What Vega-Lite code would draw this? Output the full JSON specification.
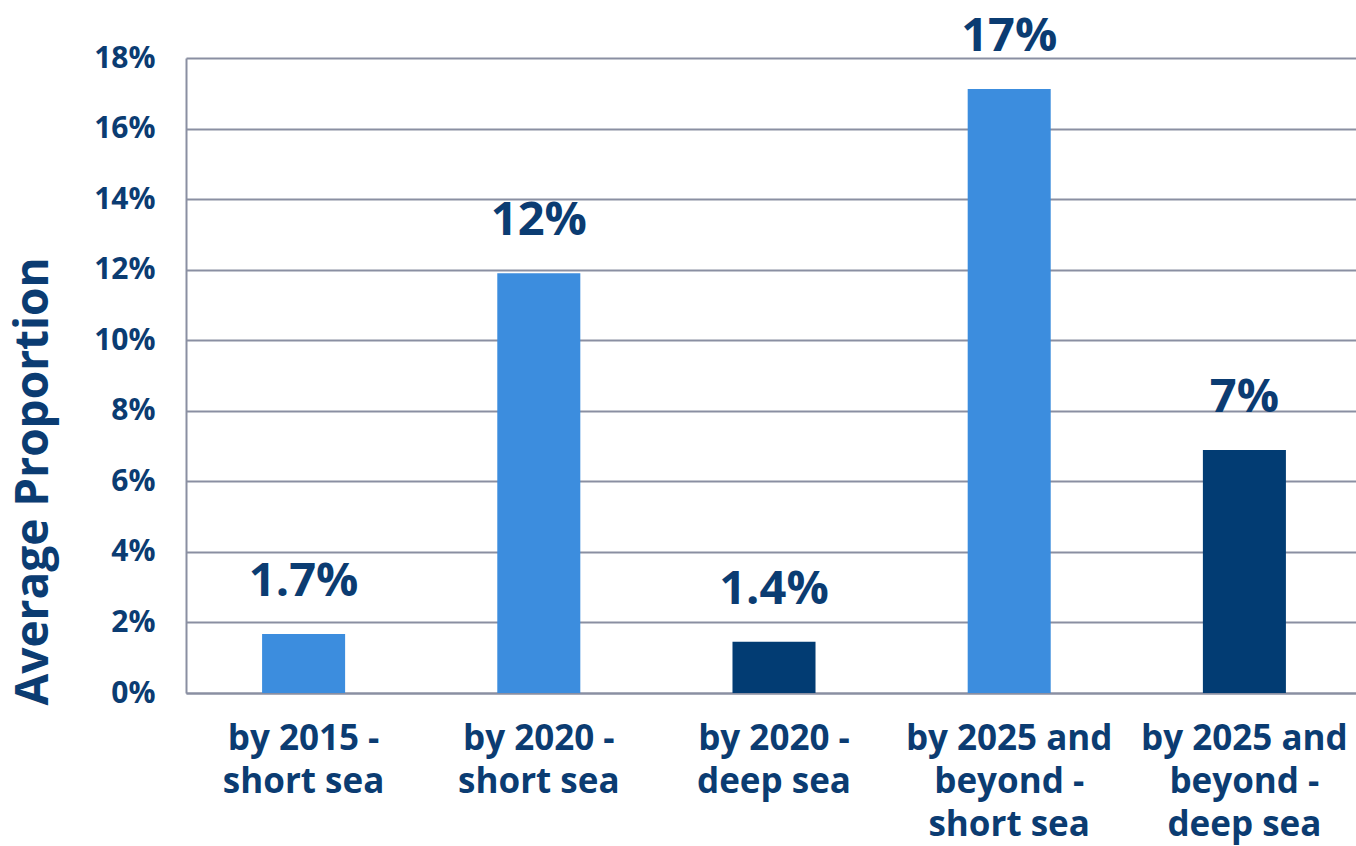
{
  "$schema": "https://vega.github.io/schema/vega-lite/v6.json",
  "autosize": {"type": "none"},
  "padding": {"left": 186, "top": 58, "right": 0, "bottom": 153},
  "width": 1176,
  "height": 635,
  "background": "white",
  "data": {"values": [
    {"category": "by 2015 - short sea", "value": 0.0167, "label": "1.7%", "type": "short sea"},
    {"category": "by 2020 - short sea", "value": 0.119, "label": "12%", "type": "short sea"},
    {"category": "by 2020 - deep sea", "value": 0.0145, "label": "1.4%", "type": "deep sea"},
    {"category": "by 2025 and beyond - short sea", "value": 0.1712, "label": "17%", "type": "short sea"},
    {"category": "by 2025 and beyond - deep sea", "value": 0.0689, "label": "7%", "type": "deep sea"}
  ]},
  "config": {
    "view": {"stroke": null},
    "font": "Open Sans"
  },
  "encoding": {
    "x": {
      "field": "category", "type": "nominal", "sort": null,
      "scale": {"paddingInner": 0.647, "paddingOuter": 0.3235},
      "axis": {
        "title": null,
        "labelAngle": 0,
        "labelFont": "Open Sans",
        "labelFontWeight": "bold",
        "labelFontSize": 35,
        "labelColor": "#0B3C72",
        "labelPadding": 28,
        "labelLimit": 300,
        "labelLineHeight": 43,
        "labelExpr": "datum.value == 'by 2015 - short sea' ? ['by 2015 -', 'short sea'] : datum.value == 'by 2020 - short sea' ? ['by 2020 -', 'short sea'] : datum.value == 'by 2020 - deep sea' ? ['by 2020 -', 'deep sea'] : datum.value == 'by 2025 and beyond - short sea' ? ['by 2025 and', 'beyond -', 'short sea'] : ['by 2025 and', 'beyond -', 'deep sea']",
        "ticks": false,
        "domainColor": "#8A8FA2",
        "domainWidth": 2,
        "grid": false
      }
    }
  },
  "layer": [
    {
      "mark": {"type": "bar"},
      "encoding": {
        "y": {
          "field": "value", "type": "quantitative",
          "scale": {"domain": [0, 0.18], "nice": false},
          "axis": {
            "title": "Average Proportion",
            "titleFont": "Open Sans",
            "titleFontWeight": "bold",
            "titleFontSize": 46,
            "titleColor": "#0B3C72",
            "titlePadding": 36,
            "titleAnchor": "start",
            "titleY": 647,
            "values": [0, 0.02, 0.04, 0.06, 0.08, 0.1, 0.12, 0.14, 0.16, 0.18],
            "format": ".0%",
            "labelFont": "Open Sans",
            "labelFontWeight": "bold",
            "labelFontSize": 30,
            "labelColor": "#0B3C72",
            "labelPadding": 31,
            "ticks": false,
            "domainColor": "#8A8FA2",
            "domainWidth": 2,
            "gridColor": "#8A8FA2",
            "gridWidth": 2
          }
        },
        "color": {
          "field": "type", "type": "nominal",
          "scale": {"domain": ["short sea", "deep sea"], "range": ["#3C8DDE", "#023C73"]},
          "legend": null
        }
      }
    },
    {
      "mark": {"type": "text", "font": "Open Sans", "fontWeight": "bold", "fontSize": 47, "color": "#0B3C72", "baseline": "alphabetic", "dy": -38},
      "encoding": {
        "y": {"field": "value", "type": "quantitative"},
        "text": {"field": "label"}
      }
    }
  ]
}
